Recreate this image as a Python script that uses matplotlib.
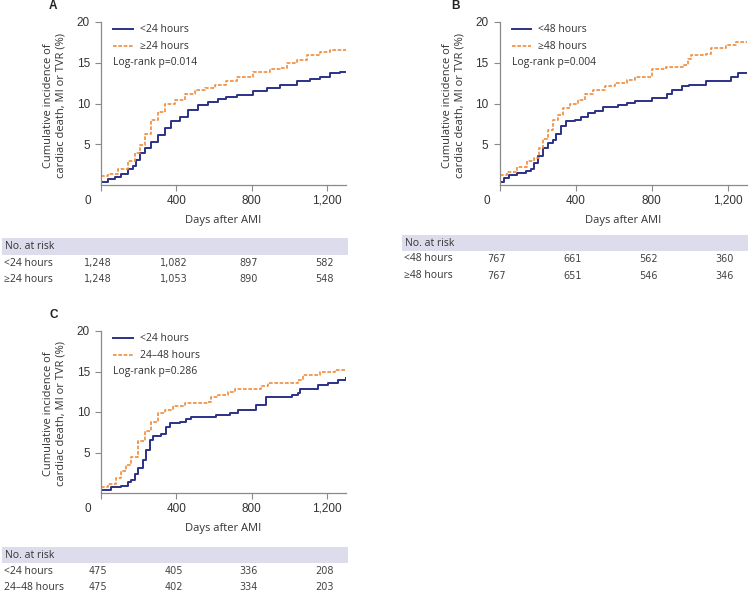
import matplotlib
matplotlib.use("Agg")
import matplotlib.pyplot as plt
import matplotlib.transforms as mtransforms
from matplotlib.patches import Rectangle

# ---------------- data ----------------
xticks = [0, 400, 800, 1200]
xticklabels = ["", "400", "800", "1,200"]
yticks = [5, 10, 15, 20]

# Panel A
a_blue_days = [0, 37, 73, 108, 143, 170, 188, 205, 232, 267, 303, 338, 373, 418, 462, 515, 568, 621, 665,
               720, 809, 880, 951, 1039, 1110, 1163, 1216, 1269, 1300]
a_blue_vals = [0.4, 0.7, 1.0, 1.4, 2.0, 2.3, 3.1, 3.9, 4.6, 5.3, 6.1, 7.0, 7.8, 8.4, 9.2, 9.8, 10.2, 10.5, 10.8,
               11.0, 11.5, 11.9, 12.3, 12.7, 13.0, 13.2, 13.7, 13.9, 13.9]
a_orange_days = [0, 37, 90, 143, 179, 205, 232, 267, 303, 338, 391, 444, 497, 550, 604, 665,
                 720, 809, 897, 951, 986, 1039, 1092, 1163, 1216, 1300]
a_orange_vals = [1.1, 1.4, 2.0, 2.9, 3.9, 4.9, 6.3, 8.0, 9.0, 9.9, 10.4, 11.2, 11.7, 11.9, 12.3, 12.7,
                 13.3, 13.9, 14.2, 14.3, 15.0, 15.3, 15.9, 16.3, 16.6, 16.7]
a_labels = ["<24 hours", "\u226524 hours"]
a_pval = "Log-rank p=0.014"
a_risk_blue = ["1,248", "1,082", "897", "582"]
a_risk_orange = ["1,248", "1,053", "890", "548"]

# Panel B
b_blue_days = [0, 22, 49, 93, 137, 164, 182, 200, 226, 253, 279, 297, 324, 350, 394, 430, 465, 501, 546, 625,
               669, 712, 801, 881, 907, 960, 996, 1085, 1217, 1253, 1300]
b_blue_vals = [0.4, 0.8, 1.2, 1.5, 1.7, 2.0, 2.7, 3.5, 4.5, 5.1, 5.5, 6.3, 7.2, 7.8, 8.0, 8.4, 8.8, 9.1, 9.6, 9.8,
               10.1, 10.3, 10.7, 11.2, 11.6, 12.1, 12.3, 12.8, 13.2, 13.7, 13.7]
b_orange_days = [0, 40, 93, 146, 182, 208, 226, 253, 279, 306, 332, 368, 412, 448, 492, 554, 607, 669,
                 712, 801, 872, 970, 988, 1005, 1085, 1112, 1191, 1244, 1300]
b_orange_vals = [1.2, 1.6, 2.2, 2.9, 3.3, 4.5, 5.7, 6.7, 8.0, 8.6, 9.4, 10.0, 10.4, 11.2, 11.7, 12.1, 12.5, 12.9,
                 13.2, 14.2, 14.5, 14.7, 15.4, 15.9, 16.1, 16.8, 17.2, 17.5, 17.5]
b_labels = ["<48 hours", "\u226548 hours"]
b_pval = "Log-rank p=0.004"
b_risk_blue = ["767", "661", "562", "360"]
b_risk_orange = ["767", "651", "546", "346"]

# Panel C
c_blue_days = [0, 55, 108, 143, 161, 179, 196, 223, 241, 258, 276, 320, 347, 365, 418, 453, 480, 612, 683, 727,
               825, 878, 1011, 1046, 1055, 1152, 1205, 1258, 1300]
c_blue_vals = [0.4, 0.7, 0.9, 1.3, 1.6, 2.3, 3.1, 4.1, 5.3, 6.6, 7.0, 7.3, 8.2, 8.6, 8.8, 9.1, 9.4, 9.6, 9.9, 10.3,
               10.9, 11.8, 12.1, 12.4, 12.9, 13.3, 13.6, 14.0, 14.2]
c_orange_days = [0, 37, 81, 108, 135, 161, 196, 232, 267, 303, 338, 382, 444, 568, 586, 621, 674, 710, 851, 887,
                 1046, 1072, 1161, 1240, 1300]
c_orange_vals = [0.8, 1.1, 1.8, 2.7, 3.5, 4.5, 6.4, 7.6, 8.8, 9.9, 10.3, 10.8, 11.1, 11.2, 11.8, 12.1, 12.5, 12.8,
                 13.2, 13.6, 14.0, 14.6, 14.9, 15.2, 15.2]
c_labels = ["<24 hours", "24\u201348 hours"]
c_pval = "Log-rank p=0.286"
c_risk_blue = ["475", "405", "336", "208"]
c_risk_orange = ["475", "402", "334", "203"]

# ---------------- style ----------------
W, H = 750, 597
BLUE = "#2d3188"
ORANGE = "#f08c3c"
SPINE = "#8a8a8a"
TXT = "#333333"
BAND = "#dcdcec"
FONT = ["Open Sans", "DejaVu Sans"]
TICKFONT = ["Liberation Sans", "DejaVu Sans"]
NUMFONT = ["DejaVu Sans"]

fig = plt.figure(figsize=(W / 100, H / 100), dpi=100)


def add_axes_px(l, t, r, b):
    return fig.add_axes([l / W, 1 - b / H, (r - l) / W, (b - t) / H])


def fy(y):
    return 1 - y / H


def panel(l, t, r, b, letter, letter_xy, bd, bv, od, ov, labels, pval,
          band, rows_y, rlabel_x, risk_b, risk_o):
    ax = add_axes_px(l, t, r, b)
    ax.step(bd, bv, where="post", color=BLUE, lw=1.4, label=labels[0])
    ax.step(od, ov, where="post", color=ORANGE, lw=1.2, ls=(0, (2.2, 1.0)), label=labels[1])
    ax.set_xlim(0, 1300)
    ax.set_ylim(0, 20)
    ax.set_xticks(xticks)
    ax.set_xticklabels(xticklabels)
    ax.set_yticks(yticks)
    for s in ["top", "right"]:
        ax.spines[s].set_visible(False)
    for s in ["left", "bottom"]:
        ax.spines[s].set_color(SPINE)
        ax.spines[s].set_linewidth(0.9)
    ax.tick_params(axis="both", length=4, width=0.8, color=SPINE, labelcolor=TXT,
                   labelsize=8.5, pad=3)
    ax.tick_params(axis="y", pad=4)
    for lab in ax.get_xticklabels() + ax.get_yticklabels():
        lab.set_family(TICKFONT)
    ax.annotate("0", xy=(0, 0), xycoords="axes fraction", xytext=(-9.2, -11.5),
                textcoords="offset points", ha="center", va="center",
                fontsize=8.5, color=TXT, family=TICKFONT)
    ax.set_xlabel("Days after AMI", fontsize=8, color=TXT, family=FONT, labelpad=6)
    axw = r - l
    leg = ax.legend(loc="upper left", bbox_to_anchor=(12 / axw, 0.985), frameon=False,
                    handlelength=1.9, handletextpad=0.65,
                    labelspacing=0.55, borderpad=0, borderaxespad=0,
                    prop={"family": FONT, "size": 7.5})
    for t_ in leg.get_texts():
        t_.set_color(TXT)
    ax.text(12 / axw, 1 - 41 / (b - t), pval,
            transform=ax.transAxes, ha="left", va="center", fontsize=7.5,
            color=TXT, family=FONT)
    # y label
    fig.text((l - 46) / W, fy((t + b) / 2 + 2),
             "Cumulative incidence of\ncardiac death, MI or TVR (%)",
             rotation=90, ha="center", va="center", fontsize=8, color=TXT,
             family=FONT, linespacing=1.15)
    # panel letter
    fig.text(letter_xy[0] / W, fy(letter_xy[1]), letter, fontsize=8.5,
             fontweight="bold", color="#222222", ha="center", va="center",
             family=["Liberation Sans", "DejaVu Sans"])
    # risk table
    bx0, by0, bx1, by1 = band
    fig.add_artist(Rectangle((bx0 / W, fy(by1)), (bx1 - bx0) / W, (by1 - by0) / H,
                             transform=fig.transFigure, facecolor=BAND,
                             edgecolor="none", zorder=0))
    fig.text((bx0 + 3) / W, fy((by0 + by1) / 2), "No. at risk", fontsize=7.5,
             color=TXT, ha="left", va="center", family=FONT)
    blend = mtransforms.blended_transform_factory(ax.transData, fig.transFigure)
    off = mtransforms.ScaledTranslation(-3 / 100, 0, fig.dpi_scale_trans)
    for ry, name, vals in [(rows_y[0], labels[0], risk_b), (rows_y[1], labels[1], risk_o)]:
        fig.text(rlabel_x / W, fy(ry), name, fontsize=7.5, color=TXT,
                 ha="left", va="center", family=FONT)
        for d, v in zip(xticks, vals):
            ax.text(d, fy(ry), v, transform=blend + off, ha="center", va="center",
                    fontsize=7, color="#444444", family=NUMFONT)
    return ax


panel(101, 22, 346, 185, "A", (53, 6), a_blue_days, a_blue_vals, a_orange_days,
      a_orange_vals, a_labels, a_pval, (2, 238, 348, 255), (263, 279), 4,
      a_risk_blue, a_risk_orange)
panel(499.5, 22, 747, 185, "B", (455, 6), b_blue_days, b_blue_vals, b_orange_days,
      b_orange_vals, b_labels, b_pval, (402, 235, 748, 251), (259, 276), 404,
      b_risk_blue, b_risk_orange)
panel(101, 331, 346, 493, "C", (54, 315), c_blue_days, c_blue_vals, c_orange_days,
      c_orange_vals, c_labels, c_pval, (2, 547, 348, 563), (571, 587), 4,
      c_risk_blue, c_risk_orange)

fig.savefig("out.png", dpi=100)
